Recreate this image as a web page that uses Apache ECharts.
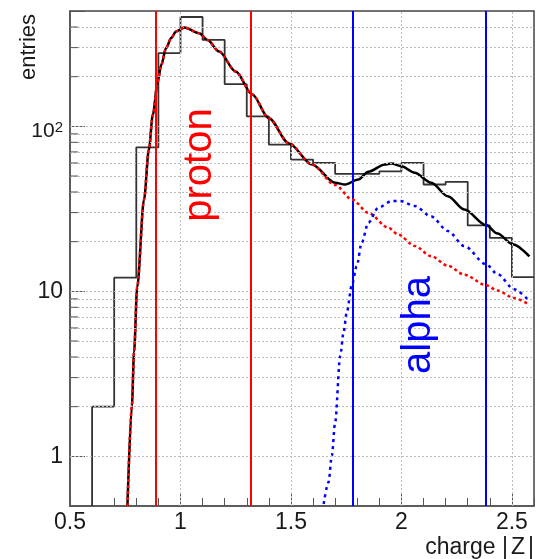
<!DOCTYPE html>
<html>
<head>
<meta charset="utf-8">
<script src="https://cdn.jsdelivr.net/npm/echarts@6/dist/echarts.min.js"></script>
<style>
  html, body { margin: 0; padding: 0; background: #ffffff; }
  #chart { width: 537px; height: 559px; }
</style>
</head>
<body>
<div id="chart"></div>
<script>
// Charge histogram: lower bin edges (bin width 0.1) and entries per bin
const binLow = [0.6, 0.7, 0.8, 0.9, 1.0, 1.1, 1.2, 1.3, 1.4, 1.5, 1.6, 1.7, 1.8, 1.9, 2.0, 2.1, 2.2, 2.3, 2.4, 2.5];
const binWidth = 0.1;
const entries = [2.0, 12.1, 74.6, 278, 460, 334, 180, 115, 77.5, 62.9, 60.1, 51.5, 51.5, 53.4, 60.0, 44.4, 46.1, 25.1, 21.1, 12.2];

// Fitted proton component
const protonX = [0.760, 0.780, 0.790, 0.804, 0.835, 0.857, 0.875, 0.897, 0.913, 0.935, 0.958, 0.980, 1.018, 1.085, 1.122, 1.175, 1.250, 1.325, 1.400, 1.490, 1.595, 1.700, 1.778, 1.850, 1.940, 1.985, 2.060, 2.135, 2.210, 2.285, 2.383, 2.435, 2.510, 2.578];
const protonY = [0.50, 2.02, 4.3, 10.6, 36.0, 72.4, 118, 187, 236, 298, 343, 376, 397, 367, 334, 284, 215, 156, 112, 79.1, 58.7, 44.1, 35.9, 29.9, 24.3, 22.1, 18.85, 16.3, 14.3, 12.6, 10.9, 10.1, 9.1, 8.31];

// Fitted alpha component
const alphaX = [1.648, 1.670, 1.685, 1.700, 1.723, 1.738, 1.7525, 1.775, 1.7975, 1.820, 1.850, 1.895, 1.955, 1.993, 2.060, 2.135, 2.210, 2.285, 2.383, 2.435, 2.510, 2.578];
const alphaY = [0.514, 0.696, 1.01, 1.61, 4.06, 5.63, 7.43, 10.8, 14.2, 19.7, 26.0, 32.1, 35.2, 35.3, 32.9, 28.4, 23.2, 18.8, 14.6, 12.7, 10.3, 8.74];

// Total fit (proton + alpha)
const totalX = [0.760, 0.780, 0.790, 0.804, 0.835, 0.857, 0.875, 0.897, 0.913, 0.935, 0.958, 0.980, 1.018, 1.085, 1.122, 1.175, 1.250, 1.325, 1.400, 1.490, 1.595, 1.700, 1.745, 1.805, 1.850, 1.925, 1.955, 2.000, 2.060, 2.135, 2.210, 2.285, 2.383, 2.435, 2.503, 2.579];
const totalY = [0.50, 2.02, 4.3, 10.6, 36.0, 72.4, 118, 187, 236, 298, 343, 376, 397, 367, 334, 284, 215, 156, 112, 79.1, 58.7, 45.5, 44.4, 47.6, 53.0, 58.7, 59.5, 57.3, 52.3, 45.5, 37.7, 31.3, 25.2, 22.4, 19.3, 16.3];

// Selection windows
const protonCuts = [0.886, 1.325];
const alphaCuts = [1.780, 2.384];

// Axes
const xRange = [0.5, 2.6];
const xMajorStep = 0.5;
const xMinorStep = 0.1;
const yRange = [0.5, 500];
const xGridValues = [1.0, 1.5, 2.0, 2.5];
const yGridValues = [1, 2, 3, 4, 5, 6, 7, 8, 9, 10, 20, 30, 40, 50, 60, 70, 80, 90, 100, 200, 300, 400];
const yMinorTickValues = [2, 3, 4, 5, 6, 7, 8, 9, 20, 30, 40, 50, 60, 70, 80, 90, 200, 300, 400];

const FONT = 'Liberation Sans, Arial, Helvetica, sans-serif';
const AXIS_COLOR = '#555555';
const TEXT_COLOR = '#1a1a1a';

const zip = (xs, ys) => xs.map((x, i) => [x, ys[i]]);

// Step outline of the histogram, rising from the axis floor at the first edge
const histPoints = [[binLow[0], yRange[0]]]
  .concat(binLow.map((x, i) => [x, entries[i]]))
  .concat([[binLow[binLow.length - 1] + binWidth, entries[entries.length - 1]]]);

const chart = echarts.init(document.getElementById('chart'), null, { renderer: 'canvas' });

chart.setOption({
  animation: false,
  backgroundColor: '#ffffff',
  textStyle: { fontFamily: FONT },
  grid: {
    left: 70, right: 0, top: 11, bottom: 52,
    show: true, borderColor: '#444444', borderWidth: 1.5, backgroundColor: 'transparent'
  },
  xAxis: [
    {
      type: 'value', min: xRange[0], max: xRange[1], interval: xMajorStep,
      position: 'bottom',
      name: '{t|charge |}{z|Z}{t||}', nameLocation: 'end', nameGap: 0,
      nameTextStyle: {
        fontFamily: FONT, fontSize: 23, color: TEXT_COLOR, align: 'right', verticalAlign: 'top', padding: [30, 0, 0, 0],
        rich: {
          t: { fontFamily: FONT, fontSize: 23, color: TEXT_COLOR },
          z: { fontFamily: FONT, fontSize: 23, color: TEXT_COLOR, padding: [0, 3, 0, 3] }
        }
      },
      axisLine: { show: true, lineStyle: { color: AXIS_COLOR, width: 1.5 } },
      axisTick: { show: true, inside: true, length: 14, lineStyle: { color: AXIS_COLOR, width: 1 } },
      axisLabel: {
        show: true, margin: 5, fontFamily: FONT, fontSize: 23, color: TEXT_COLOR,
        showMaxLabel: false,
        formatter: v => (Math.abs(v / xMajorStep - Math.round(v / xMajorStep)) < 1e-6 ? String(+v.toFixed(1)) : '')
      },
      splitLine: { show: false }
    },
    {
      type: 'value', min: xRange[0], max: xRange[1], interval: xMinorStep,
      position: 'bottom',
      axisLine: { show: false },
      axisTick: { show: true, inside: true, length: 8, lineStyle: { color: AXIS_COLOR, width: 1 } },
      axisLabel: { show: false },
      splitLine: { show: false }
    }
  ],
  yAxis: [
    {
      type: 'log', logBase: 10, min: yRange[0], max: yRange[1],
      axisLine: { show: true, lineStyle: { color: AXIS_COLOR, width: 1.5 } },
      axisTick: { show: true, inside: true, length: 15, lineStyle: { color: AXIS_COLOR, width: 1 } },
      axisLabel: {
        show: true, margin: 7, color: TEXT_COLOR, fontFamily: FONT, fontSize: 23,
        formatter: v => {
          const e = Math.log10(v);
          if (Math.abs(e - Math.round(e)) > 1e-6) return '';
          const k = Math.round(e);
          if (k >= 2) return '{base|10}{sup|' + k + '}';
          return '{n|' + Math.round(v) + '}';
        },
        rich: {
          n: { fontFamily: FONT, fontSize: 23, color: TEXT_COLOR },
          base: { fontFamily: FONT, fontSize: 21, lineHeight: 21, color: TEXT_COLOR, padding: [9, 0, 0, 0] },
          sup: { fontFamily: FONT, fontSize: 15, lineHeight: 15, color: TEXT_COLOR, verticalAlign: 'top', padding: [5, 0, 0, 0] }
        }
      },
      splitLine: { show: false }
    }
  ],
  graphic: [
    {
      type: 'text', x: 29, y: 47, rotation: Math.PI / 2,
      style: { text: 'entries', fontFamily: FONT, fontSize: 22, fill: TEXT_COLOR, align: 'center', verticalAlign: 'middle' }
    },
    {
      type: 'text', x: 200, y: 165, rotation: Math.PI / 2, z: 10,
      style: { text: 'proton', fontFamily: FONT, fontSize: 40, fill: '#ff0000', align: 'center', verticalAlign: 'middle' }
    },
    {
      type: 'text', x: 419, y: 325, rotation: Math.PI / 2, z: 10,
      style: { text: 'alpha', fontFamily: FONT, fontSize: 40, fill: '#0000ff', align: 'center', verticalAlign: 'middle' }
    }
  ],
  series: [
    {
      // dotted grid
      name: 'grid', type: 'line', data: [], z: 1, silent: true,
      markLine: {
        silent: true, symbol: 'none', animation: false,
        label: { show: false },
        lineStyle: { color: '#bdbdbd', width: 1, type: [2, 2] },
        data: yGridValues.map(v => ({ yAxis: v })).concat(xGridValues.map(v => ({ xAxis: v })))
      }
    },
    {
      // minor ticks on the log axis
      name: 'yMinorTicks', type: 'custom', z: 6, silent: true, clip: false,
      data: yMinorTickValues.map(v => [xRange[0], v]),
      renderItem: (params, api) => {
        const p = api.coord([api.value(0), api.value(1)]);
        return { type: 'line', shape: { x1: p[0], y1: p[1], x2: p[0] + 8, y2: p[1] }, style: { stroke: AXIS_COLOR, lineWidth: 1 } };
      }
    },
    {
      name: 'data', type: 'line', step: 'end', z: 2,
      data: histPoints, symbol: 'none',
      lineStyle: { color: '#333333', width: 1.8 }
    },
    {
      name: 'cuts', type: 'line', data: [], z: 3, silent: true,
      markLine: {
        silent: true, symbol: 'none', animation: false,
        label: { show: false },
        data: protonCuts.map(v => ({ xAxis: v, lineStyle: { color: '#ff0000', width: 2, type: 'solid' } }))
          .concat(alphaCuts.map(v => ({ xAxis: v, lineStyle: { color: '#0000ff', width: 2, type: 'solid' } })))
      }
    },
    {
      name: 'total', type: 'line', z: 4,
      data: zip(totalX, totalY), symbol: 'none', smooth: 0.3, smoothMonotone: 'x',
      lineStyle: { color: '#000000', width: 2.5 }
    },
    {
      name: 'proton', type: 'line', z: 5,
      data: zip(protonX, protonY), symbol: 'none', smooth: 0.3, smoothMonotone: 'x',
      lineStyle: { color: '#ff0000', width: 2.5, type: [3, 3] }
    },
    {
      name: 'alpha', type: 'line', z: 5,
      data: zip(alphaX, alphaY), symbol: 'none', smooth: 0.3, smoothMonotone: 'x',
      lineStyle: { color: '#0000ff', width: 2.5, type: [3, 4] }
    }
  ]
});
</script>
</body>
</html>
